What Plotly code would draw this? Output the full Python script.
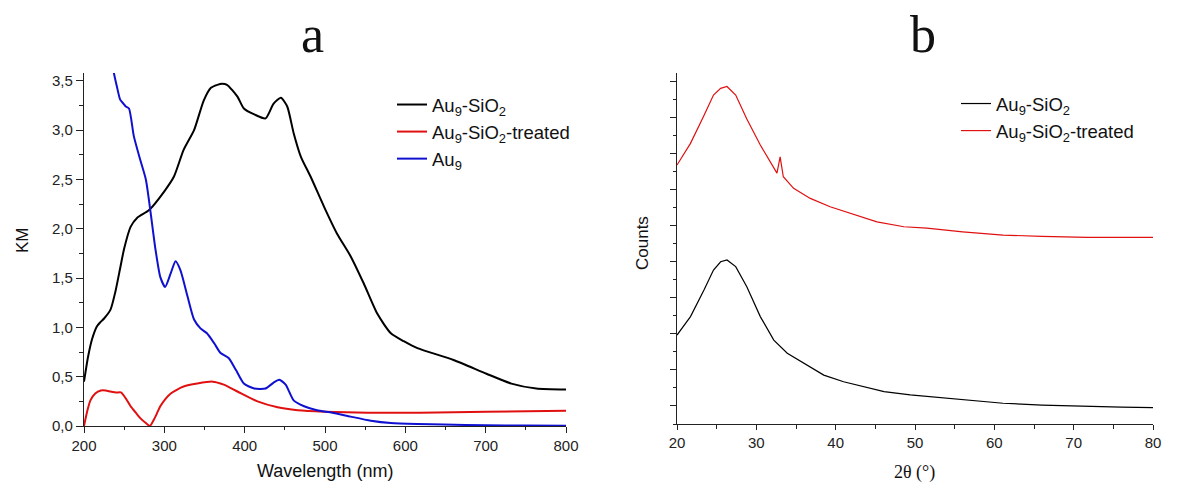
import plotly.graph_objects as go

# ---------------- Panel a : KM vs wavelength ----------------
wl_black = [200, 205, 210, 216, 220, 225, 233, 239, 245, 250, 258, 266, 281, 300, 312, 324, 337,
            349, 358, 366, 372, 378, 391, 399, 412, 426, 436, 445, 453, 461, 470, 482, 499, 515,
            532, 548, 565, 582, 598, 615, 660, 701, 732, 763, 800]
km_black = [0.45, 0.70, 0.88, 1.01, 1.05, 1.09, 1.18, 1.36, 1.60, 1.80, 2.02, 2.11, 2.19, 2.38, 2.53,
            2.80, 3.00, 3.30, 3.43, 3.46, 3.47, 3.46, 3.34, 3.22, 3.16, 3.12, 3.27, 3.33, 3.24, 2.97,
            2.73, 2.53, 2.22, 1.95, 1.72, 1.45, 1.14, 0.94, 0.86, 0.79, 0.67, 0.53, 0.43, 0.38, 0.37]

wl_red = [200, 204, 208, 214, 221, 227, 233, 240, 246, 252, 258, 264, 270, 277, 282, 288, 295, 302,
          308, 316, 324, 341, 360, 374, 391, 416, 441, 466, 499, 553, 618, 701, 800]
km_red = [0.0, 0.15, 0.26, 0.33, 0.36, 0.36, 0.35, 0.34, 0.34, 0.28, 0.20, 0.14, 0.08, 0.03, 0.0,
          0.08, 0.20, 0.28, 0.33, 0.37, 0.40, 0.43, 0.45, 0.42, 0.35, 0.25, 0.19, 0.16, 0.145, 0.135,
          0.135, 0.145, 0.155]

wl_blue = [235, 237, 241, 245, 249, 252, 256, 262, 270, 277, 283, 289, 295, 301, 308, 314, 320, 329,
           337, 345, 353, 362, 370, 380, 389, 399, 412, 426, 436, 443, 451, 461, 474, 490, 509, 532,
           557, 582, 615, 648, 700, 750, 800]
km_blue = [3.70, 3.59, 3.44, 3.31, 3.27, 3.24, 3.22, 2.94, 2.70, 2.50, 2.16, 1.79, 1.51, 1.41, 1.55,
           1.67, 1.58, 1.31, 1.08, 0.99, 0.94, 0.84, 0.74, 0.69, 0.57, 0.43, 0.38, 0.38, 0.44, 0.47,
           0.42, 0.26, 0.20, 0.16, 0.135, 0.095, 0.054, 0.03, 0.02, 0.015, 0.008, 0.004, 0.003]

km_tickvals = [0, 0.5, 1.0, 1.5, 2.0, 2.5, 3.0, 3.5]
km_ticktext = ["0,0", "0,5", "1,0", "1,5", "2,0", "2,5", "3,0", "3,5"]

# ---------------- Panel b : XRD counts vs 2theta ----------------
th_black = [20, 21.7, 23.4, 24.6, 25.5, 26.3, 27.4, 28.8, 30.5, 32.2, 33.9, 36, 38.5, 41, 43.5,
            46.1, 49.4, 51.5, 56, 61.1, 66, 71.7, 76, 80]
cnt_black = [4.93, 5.95, 7.42, 8.53, 8.99, 9.09, 8.72, 7.61, 5.95, 4.65, 3.92, 3.36, 2.71, 2.34, 2.07,
             1.79, 1.61, 1.53, 1.32, 1.15, 1.05, 0.96, 0.93, 0.91]

th_red = [20, 21.7, 23.4, 24.6, 25.5, 26.3, 27.4, 28.8, 30.5, 32.2, 32.6, 33.0, 33.4, 34.7, 36.8,
          39.3, 41.8, 45.2, 48.6, 51.5, 56, 61.1, 66, 71.7, 76, 80]
cnt_red = [14.35, 15.55, 17.1, 18.23, 18.6, 18.7, 18.23, 16.9, 15.46, 14.25, 13.9, 14.8, 13.7, 13.06,
           12.5, 12.04, 11.67, 11.2, 10.93, 10.85, 10.65, 10.47, 10.4, 10.34, 10.34, 10.34]

BLACK = "#000000"
RED = "#e01010"
BLUE = "#1010d0"
AXC = "#222222"
SANS = "Liberation Sans, Arial, sans-serif"
SERIF = "Liberation Serif, Times New Roman, serif"

fig = go.Figure()
fig.add_trace(go.Scatter(x=wl_black, y=km_black, mode="lines", name="Au<sub>9</sub>-SiO<sub>2</sub>",
                         line=dict(color=BLACK, width=2, shape="spline", smoothing=0.6),
                         xaxis="x", yaxis="y", legend="legend"))
fig.add_trace(go.Scatter(x=wl_red, y=km_red, mode="lines", name="Au<sub>9</sub>-SiO<sub>2</sub>-treated",
                         line=dict(color=RED, width=2, shape="spline", smoothing=0.6),
                         xaxis="x", yaxis="y", legend="legend"))
fig.add_trace(go.Scatter(x=wl_blue, y=km_blue, mode="lines", name="Au<sub>9</sub>",
                         line=dict(color=BLUE, width=2, shape="spline", smoothing=0.6),
                         xaxis="x", yaxis="y", legend="legend"))
fig.add_trace(go.Scatter(x=th_black, y=cnt_black, mode="lines", name="Au<sub>9</sub>-SiO<sub>2</sub>",
                         line=dict(color=BLACK, width=1.2),
                         xaxis="x2", yaxis="y2", legend="legend2"))
fig.add_trace(go.Scatter(x=th_red, y=cnt_red, mode="lines", name="Au<sub>9</sub>-SiO<sub>2</sub>-treated",
                         line=dict(color=RED, width=1.2),
                         xaxis="x2", yaxis="y2", legend="legend2"))

W, H = 1181, 483
def px(xp):
    return xp / W
def py(yp):
    return 1 - yp / H

common_axis = dict(showline=True, linecolor=AXC, linewidth=1.3, ticks="outside", tickcolor=AXC,
                   tickwidth=1.2, showgrid=False, zeroline=False, automargin=False,
                   tickfont=dict(family=SANS, size=15, color="#222"))

fig.update_layout(
    width=W, height=H, margin=dict(l=0, r=0, t=0, b=0),
    paper_bgcolor="white", plot_bgcolor="white",
    xaxis=dict(domain=[px(84), px(566)], range=[200, 800], tick0=200, dtick=100, ticklen=6,
               minor=dict(dtick=50, ticklen=3, ticks="outside", tickcolor=AXC, tickwidth=1.2),
               anchor="y", **common_axis),
    yaxis=dict(domain=[py(426), py(73)], range=[0, 3.58], tickvals=km_tickvals, ticktext=km_ticktext,
               ticklen=7, minor=dict(dtick=0.25, ticklen=3.5, ticks="outside", tickcolor=AXC, tickwidth=1.2),
               anchor="x", **common_axis),
    xaxis2=dict(domain=[px(677), px(1153)], range=[20, 80], tick0=20, dtick=10, ticklen=5,
                minor=dict(dtick=5, ticklen=4, ticks="outside", tickcolor=AXC, tickwidth=1.2),
                anchor="y2", **common_axis),
    yaxis2=dict(domain=[py(424), py(73)], range=[0, 19.45], tick0=1, dtick=2, ticklen=6,
                showticklabels=False,
                minor=dict(tick0=0, dtick=1, ticklen=3, ticks="outside", tickcolor=AXC, tickwidth=1.2),
                anchor="x2", **common_axis),
    legend=dict(x=px(392), y=py(86), xanchor="left", yanchor="top", bgcolor="rgba(0,0,0,0)",
                font=dict(family=SANS, size=18.5, color="#111"), tracegroupgap=0),
    legend2=dict(x=px(956), y=py(85), xanchor="left", yanchor="top", bgcolor="rgba(0,0,0,0)",
                 font=dict(family=SANS, size=18.5, color="#111"), tracegroupgap=0),
    annotations=[
        dict(text="a", x=px(312), y=py(35), xref="paper", yref="paper", showarrow=False,
             font=dict(family=SERIF, size=52, color="#111"), xanchor="center", yanchor="middle"),
        dict(text="b", x=px(923), y=py(35), xref="paper", yref="paper", showarrow=False,
             font=dict(family=SERIF, size=52, color="#111"), xanchor="center", yanchor="middle"),
        dict(text="KM", x=px(22), y=py(240), xref="paper", yref="paper", showarrow=False, textangle=-90,
             font=dict(family=SANS, size=17, color="#111"), xanchor="center", yanchor="middle"),
        dict(text="Counts", x=px(643), y=py(243), xref="paper", yref="paper", showarrow=False, textangle=-90,
             font=dict(family=SANS, size=17, color="#111"), xanchor="center", yanchor="middle"),
        dict(text="Wavelength (nm)", x=px(325), y=py(471), xref="paper", yref="paper", showarrow=False,
             font=dict(family=SANS, size=18, color="#111"), xanchor="center", yanchor="middle"),
        dict(text="2θ (°)", x=px(914), y=py(472), xref="paper", yref="paper", showarrow=False,
             font=dict(family=SERIF, size=18, color="#111"), xanchor="center", yanchor="middle"),
    ],
)

fig.write_html("out.html")
